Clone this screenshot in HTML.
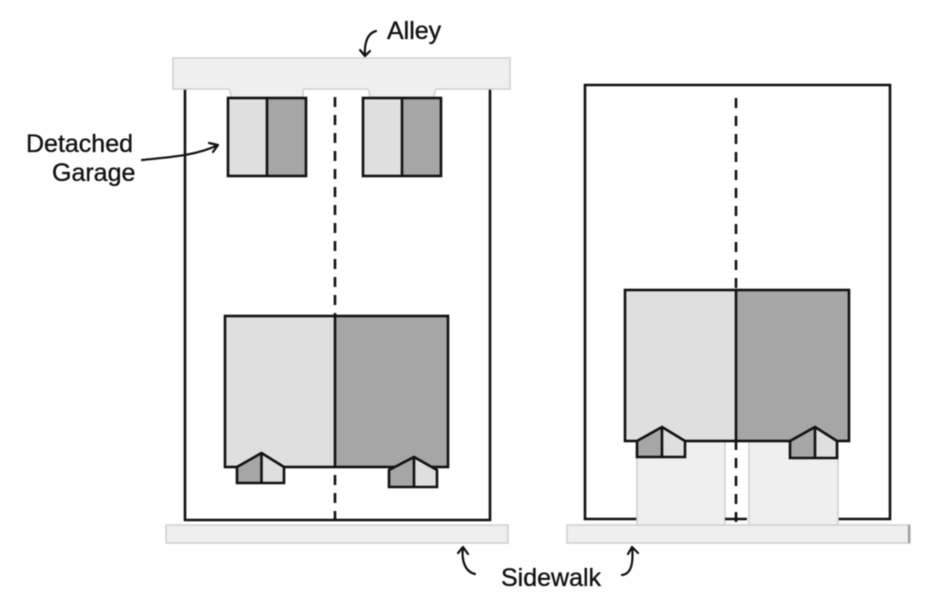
<!DOCTYPE html>
<html>
<head>
<meta charset="utf-8">
<style>
html,body{margin:0;padding:0;background:#fff;width:941px;height:600px;overflow:hidden}
svg{display:block;filter:blur(.4px)}
text{font-family:"Liberation Sans",sans-serif;font-size:25px;fill:#111;stroke:#111;stroke-width:.35}
.o{stroke:#111;stroke-width:2.6;fill:none;stroke-linejoin:miter}
.l{fill:#dfdfdf}.d{fill:#a6a6a6}.p{fill:#efefef;stroke:#cfcfcf;stroke-width:1.5}
.a{fill:none;stroke:#111;stroke-width:2.2;stroke-linecap:round;stroke-linejoin:round}
</style>
</head>
<body>
<svg width="941" height="600" viewBox="0 0 941 600" xmlns="http://www.w3.org/2000/svg">
<rect width="941" height="600" fill="#fff"/>

<!-- Left lot -->
<path class="o" d="M185 89V520H490V89"/>
<path d="M173 58H510V89H437Q435 89 434 98H370Q369 89 367 89H304Q303 89 303 98H231Q230 89 229 89H173Z" class="p"/>
<line x1="335" y1="97" x2="335" y2="526" stroke="#111" stroke-width="2.6" stroke-dasharray="10 8"/>

<!-- Garages -->
<rect class="l" x="228" y="98" width="39" height="78"/>
<rect class="d" x="267" y="98" width="39" height="78"/>
<rect class="o" x="228" y="98" width="78" height="78"/>
<line class="o" x1="267" y1="98" x2="267" y2="176"/>
<rect class="l" x="363" y="98" width="39" height="78"/>
<rect class="d" x="402" y="98" width="39" height="78"/>
<rect class="o" x="363" y="98" width="78" height="78"/>
<line class="o" x1="402" y1="98" x2="402" y2="176"/>

<!-- Left house -->
<rect class="l" x="225" y="316" width="110" height="151"/>
<rect class="d" x="335" y="316" width="113" height="151"/>
<rect class="o" x="225" y="316" width="223" height="151"/>
<line class="o" x1="335" y1="316" x2="335" y2="468"/>
<path class="d" d="M237 467L261.500 453V483H237Z"/>
<path class="l" d="M261.500 453L284 467V483H261.500Z"/>
<path class="o" d="M237 483V467L261.500 453L284 467V483ZM261.500 453V483"/>
<path class="d" d="M389 470L414 457V487H389Z"/>
<path class="l" d="M414 457L437 470V487H414Z"/>
<path class="o" d="M389 487V470L414 457L437 470V487ZM414 457V487"/>

<rect class="p" x="166" y="525" width="342" height="18"/>

<!-- Right lot -->
<path class="o" d="M637 519H585V85H890V519H838"/>
<rect class="p" x="637" y="441" width="88" height="84"/>
<rect class="p" x="749" y="441" width="89" height="84"/>
<rect class="p" x="567" y="525" width="343" height="18"/>
<line x1="725" y1="519" x2="747" y2="519" stroke="#111" stroke-width="2.6"/>
<line x1="736" y1="98" x2="736" y2="529" stroke="#111" stroke-width="2.6" stroke-dasharray="10 8"/>

<!-- Right house -->
<rect class="l" x="625" y="290" width="111" height="151"/>
<rect class="d" x="736" y="290" width="113" height="151"/>
<rect class="o" x="625" y="290" width="224" height="151"/>
<line class="o" x1="736" y1="290" x2="736" y2="442"/>
<path class="d" d="M637 441L662 427V457H637Z"/>
<path class="l" d="M662 427L685 441V457H662Z"/>
<path class="o" d="M637 457V441L662 427L685 441V457ZM662 427V457"/>
<path class="d" d="M790 441L815 427V458H790Z"/>
<path class="l" d="M815 427L837 441V458H815Z"/>
<path class="o" d="M790 458V441L815 427L837 441V458ZM815 427V458"/>
<line x1="909" y1="525" x2="909" y2="543" stroke="#999" stroke-width="2"/>

<!-- Labels -->
<text x="387" y="39">Alley</text>
<text x="26" y="152">Detached</text>
<text x="52" y="181">Garage</text>
<text x="501" y="586">Sidewalk</text>

<!-- Arrows -->
<path class="a" d="M376 31C368 33 364 42 365 56M360 50L365 56L370 51"/>
<path class="a" d="M142 160C170 157 195 156 218 145M209 143L218 145L213 152"/>
<path class="a" d="M475 574C466 572 461 562 463 547M458 553L463 547L468 554"/>
<path class="a" d="M622 575C630 574 634 566 632 547M628 554L632 547L638 553"/>
</svg>
</body>
</html>
